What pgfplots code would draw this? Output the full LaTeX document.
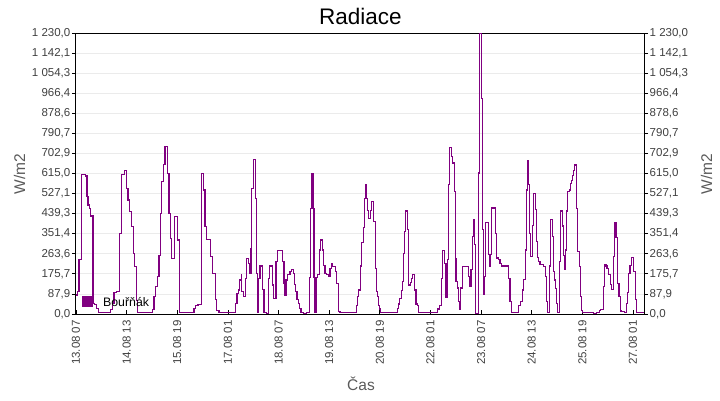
\documentclass[border=0pt]{standalone}
\usepackage{fontspec}
\setmainfont{Liberation Sans}
\usepackage{pgfplots}
\pgfplotsset{compat=1.18}
\definecolor{bpurple}{HTML}{800080}
\definecolor{tickgray}{HTML}{404040}
\definecolor{labgray}{HTML}{5A5A5A}
\definecolor{gridgray}{HTML}{EBEBEB}
\pgfplotsset{
  commony/.style={
    at={(76pt,86pt)}, anchor=south west,
    scale only axis, width=568pt, height=281pt,
    xmin=0, xmax=336.5, ymin=0, ymax=1230,
    ytick={0,87.857,175.714,263.571,351.429,439.286,527.143,615,702.857,790.714,878.571,966.429,1054.286,1142.143,1230},
    yticklabels={{0,0},{87,9},{175,7},{263,6},{351,4},{439,3},{527,1},{615,0},{702,9},{790,7},{878,6},{966,4},{1 054,3},{1 142,1},{1 230,0}},
    tick align=outside,
    major tick length=4pt,
    ytick style={black, line width=0.8pt},
    ticklabel style={font=\fontsize{11.5}{13}\selectfont, text=tickgray},
    axis line style={black, line width=1pt},
  }
}
\begin{document}
\begin{tikzpicture}
\path[use as bounding box] (0,0) rectangle (720pt,400pt);
\begin{axis}[
  commony,
  xtick={0,30,...,330},
  xticklabels={13.08 07,14.08 13,15.08 19,17.08 01,18.08 07,19.08 13,20.08 19,22.08 01,23.08 07,24.08 13,25.08 19,27.08 01},
  xtick pos=bottom, ytick pos=left,
  xtick style={yshift=4pt, black, line width=0.8pt},
  ymajorgrids, grid style={gridgray, line width=0.8pt},
  xticklabel style={rotate=90, anchor=east, inner sep=2pt},
  yticklabel style={inner xsep=1.5pt},
  legend style={at={(axis description cs:0,0)}, anchor=south west, draw=none, fill=none,
    font=\fontsize{12.3}{14}\selectfont, xshift=3pt, yshift=2pt},
  legend image code/.code={\fill[bpurple, draw=none] (0pt,-4pt) rectangle (11pt,7pt); \path[draw=none, fill=none] (0pt,0pt) -- (19pt,0pt);},
]
\addplot[const plot, bpurple, line width=1.1pt] coordinates {
(0,83)(0.8,98)(1.8,240)(3.2,611)(5.7,604)(6.5,513)(7.1,477)(7.9,462)(8.7,429)(10.1,47)(11.1,40)(12.0,25)(13.2,7)(20.5,20)(21.5,47)(22.5,93)(24.0,98)(25.9,353)(26.9,611)(28.8,630)(29.8,550)(30.8,499)(31.8,448)(32.8,382)(33.8,265)(34.8,207)(35.7,61)(36.7,7)(45.2,20)(46.2,76)(47.2,120)(48.2,163)(49.2,258)(50.2,440)(50.6,579)(51.7,656)(52.7,732)(54.1,616)(55.1,440)(56.1,330)(56.7,244)(58.1,426)(60.2,324)(61.2,7)(69.9,25)(70.9,36)(72.3,42)(74.4,616)(75.4,543)(76.4,382)(77.4,328)(79.8,251)(80.8,178)(82.9,64)(83.3,17)(84.7,7)(94.6,47)(95.4,88)(96.2,105)(96.8,149)(97.8,171)(98.2,98)(99.1,76)(100.5,156)(101.1,241)(102.1,222)(102.7,178)(103.7,287)(104.1,550)(105.1,677)(106.4,506)(107.0,178)(107.6,7)(108.2,156)(109.0,210)(110.6,108)(111.4,7)(113.0,3)(114.0,156)(114.9,210)(116.3,127)(117.1,69)(118.5,229)(119.3,276)(122.4,229)(123.2,134)(123.8,83)(124.4,149)(125.4,174)(126.8,185)(127.8,195)(128.6,178)(129.3,131)(130.1,98)(130.9,64)(131.7,47)(132.5,25)(133.3,7)(134.7,3)(136.7,7)(138.2,159)(139.0,462)(139.6,616)(140.4,462)(141.0,159)(141.6,7)(142.2,159)(143.0,171)(144.0,280)(145.0,324)(145.9,280)(146.7,214)(147.5,178)(148.5,171)(149.5,163)(150.5,200)(151.3,222)(152.1,207)(153.5,185)(154.4,134)(155.4,10)(156.4,7)(166.3,36)(166.9,76)(167.5,105)(168.5,210)(169.3,314)(170.2,378)(171.0,506)(171.4,567)(172.0,506)(172.6,455)(173.2,419)(174.4,455)(175.2,492)(176.2,404)(177.2,200)(177.9,98)(178.5,76)(179.1,39)(179.7,22)(180.5,7)(190.4,25)(191.0,44)(191.8,69)(192.8,102)(193.3,141)(194.1,266)(194.5,360)(195.1,451)(196.3,368)(196.9,127)(198.1,137)(198.7,156)(199.3,171)(200.5,105)(201.4,44)(202.2,36)(202.8,7)(214.1,22)(215.1,36)(216.6,157)(217.2,277)(218.4,223)(219.2,73)(219.9,238)(220.5,566)(221.1,729)(222.3,690)(222.9,661)(224.1,537)(224.6,244)(225.1,143)(225.8,114)(226.5,55)(227.1,19)(228.0,114)(228.8,209)(232.4,165)(233.2,121)(234.0,194)(234.8,340)(235.5,413)(236.1,303)(236.9,4)(238.3,617)(238.9,1227)(240.1,942)(240.7,369)(241.3,85)(241.9,165)(242.5,401)(244.4,260)(245.0,209)(245.6,260)(246.2,464)(248.4,354)(249.2,245)(250.4,238)(251.2,222)(252.2,210)(256.1,156)(257.1,54)(258.1,7)(262.1,39)(263.1,54)(264.4,105)(265.0,152)(266.4,280)(267.0,543)(267.4,670)(268.2,565)(268.8,353)(269.2,251)(270.4,389)(271.0,528)(272.1,458)(272.9,319)(273.5,247)(274.1,229)(274.9,217)(276.9,207)(277.9,163)(278.7,54)(279.2,7)(280.4,210)(281.0,414)(282.2,341)(282.8,185)(283.4,149)(284.2,112)(284.6,47)(285.2,7)(286.4,229)(286.9,451)(288.1,385)(288.7,258)(289.3,195)(289.9,280)(290.5,451)(291.3,535)(292.1,543)(292.7,572)(293.3,584)(293.9,608)(294.7,630)(295.2,652)(296.6,462)(297.2,273)(298.2,207)(298.8,76)(299.4,17)(300.0,7)(306.5,3)(308.1,7)(309.9,17)(310.8,20)(312.4,120)(313.0,217)(314.0,210)(314.6,200)(315.4,174)(316.4,131)(317.2,108)(318.4,251)(318.9,401)(319.9,334)(320.9,134)(321.7,76)(322.7,13)(323.3,10)(324.7,7)(325.9,47)(326.6,95)(327.2,178)(328.2,214)(329.2,248)(330.4,185)(331.4,64)(332.2,7)(336.5,7)
};
\addlegendentry{Bouřňák}
\end{axis}
\begin{axis}[
  commony,
  axis x line=none,
  axis y line*=right,
  yticklabel style={anchor=west, inner xsep=1.5pt},
]
\end{axis}
\node[anchor=base, font=\fontsize{22.5}{26}\selectfont] at (360.5pt,375pt) {Radiace};
\node[anchor=base, font=\fontsize{15.5}{18}\selectfont, text=labgray] at (361pt,9.5pt) {Čas};
\node[anchor=base, rotate=90, font=\fontsize{15.5}{18}\selectfont, text=labgray] at (25pt,226pt) {W/m2};
\node[anchor=base, rotate=90, font=\fontsize{15.5}{18}\selectfont, text=labgray] at (712pt,226pt) {W/m2};
\end{tikzpicture}
\end{document}
